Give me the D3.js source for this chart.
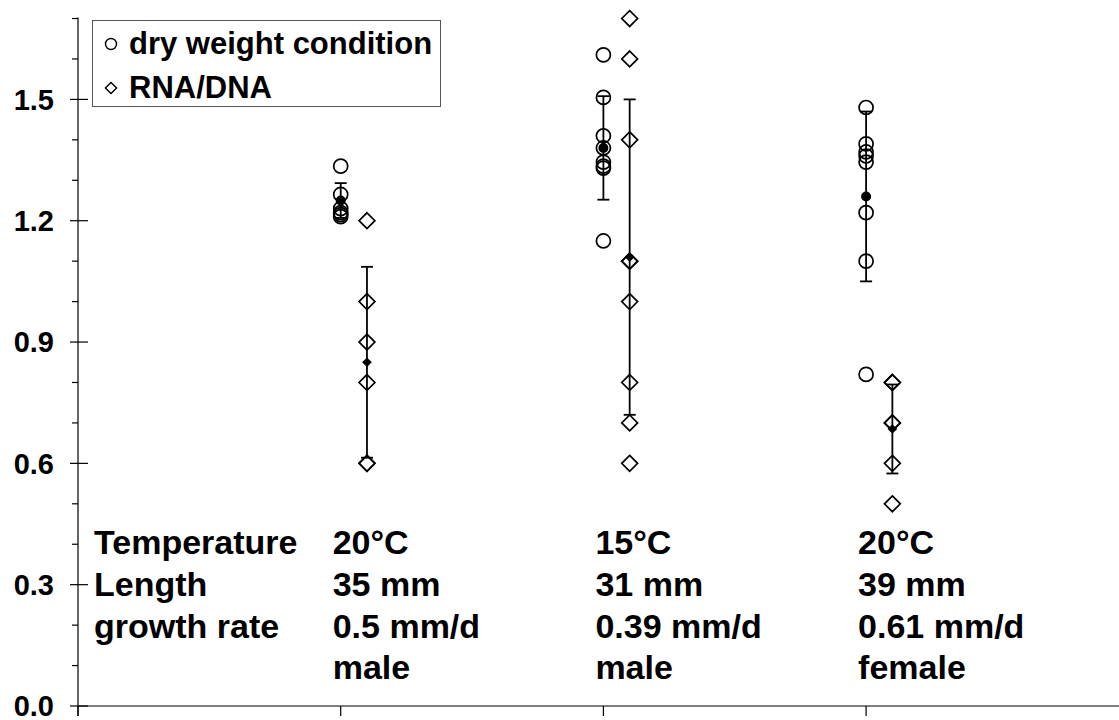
<!DOCTYPE html>
<html>
<head>
<meta charset="utf-8">
<script src="https://cdn.jsdelivr.net/npm/d3@7"></script>
<style>
  body { margin: 0; background: #fff; }
  text { font-family: "Liberation Sans", Arial, sans-serif; font-weight: bold; fill: #000; }
</style>
</head>
<body>
<script>
var width = 1119;
var height = 720;

// groups along x (1, 2, 3)
var groups = [1, 2, 3];

// dry weight condition, single fish
var dryWeight = [
    [1.335, 1.265, 1.23, 1.22, 1.215, 1.21],
    [1.61, 1.505, 1.41, 1.38, 1.345, 1.335, 1.33, 1.15],
    [1.48, 1.39, 1.37, 1.36, 1.345, 1.22, 1.10, 0.82]
];
var dryMean = [1.25, 1.38, 1.26];
var drySd = [0.043, 0.128, 0.21];

// RNA/DNA, single fish
var rnaDna = [
    [1.2, 1.0, 0.9, 0.8, 0.6, 0.6],
    [1.7, 1.6, 1.4, 1.1, 1.1, 1.0, 0.8, 0.7, 0.6],
    [0.8, 0.8, 0.7, 0.7, 0.6, 0.5]
];
var rnaMean = [0.85, 1.11, 0.685];
var rnaSd = [0.236, 0.39, 0.11];

var majorTicks = [0, 0.3, 0.6, 0.9, 1.2, 1.5];
var minorTicks = [0.1, 0.2, 0.4, 0.5, 0.7, 0.8, 1.0, 1.1, 1.3, 1.4, 1.6, 1.7];
var xTicks = [0, 1, 2, 3, 4];

var rowLabels = ["Temperature", "Length", "growth rate", ""];
var temperature = ["20°C", "15°C", "20°C"];
var lengthMm = ["35 mm", "31 mm", "39 mm"];
var growthRate = ["0.5 mm/d", "0.39 mm/d", "0.61 mm/d"];
var sex = ["male", "male", "female"];

var legendLabels = ["dry weight condition", "RNA/DNA"];

var svg = d3.select("body")
    .append("svg")
    .attr("width", width)
    .attr("height", height);

var x = d3.scaleLinear()
    .domain([0, 4])
    .range([78, 1128.8]);

var y = d3.scaleLinear()
    .domain([0, 1.5])
    .range([706, 99.4]);

var offset = 0.1; // RNA/DNA drawn a bit to the right

// axes
svg.append("line")
    .attr("x1", x(0)).attr("x2", x(0))
    .attr("y1", y(1.7) - 1).attr("y2", y(0) + 10)
    .attr("stroke", "#000").attr("stroke-width", 1.2);

svg.append("line")
    .attr("x1", x(0)).attr("x2", width)
    .attr("y1", y(0)).attr("y2", y(0))
    .attr("stroke", "#000").attr("stroke-width", 1.2);

svg.append("g")
    .selectAll("line")
    .data(majorTicks)
    .enter()
    .append("line")
    .attr("x1", x(0) - 8).attr("x2", x(0) + 10)
    .attr("y1", function (d) { return y(d); })
    .attr("y2", function (d) { return y(d); })
    .attr("stroke", "#000").attr("stroke-width", 1.2);

svg.append("g")
    .selectAll("line")
    .data(minorTicks)
    .enter()
    .append("line")
    .attr("x1", x(0) - 6).attr("x2", x(0))
    .attr("y1", function (d) { return y(d); })
    .attr("y2", function (d) { return y(d); })
    .attr("stroke", "#000").attr("stroke-width", 1.2);

svg.append("g")
    .selectAll("text")
    .data(majorTicks)
    .enter()
    .append("text")
    .attr("x", 54)
    .attr("y", function (d) { return y(d); })
    .attr("dy", "0.35em")
    .attr("text-anchor", "end")
    .style("font-size", "29px")
    .text(function (d) { return d.toFixed(1); });

svg.append("g")
    .selectAll("line")
    .data(xTicks)
    .enter()
    .append("line")
    .attr("x1", function (d) { return x(d); })
    .attr("x2", function (d) { return x(d); })
    .attr("y1", y(0)).attr("y2", y(0) + 10)
    .attr("stroke", "#000").attr("stroke-width", 1.2);

// error bars
function errorBars(means, sds, dx) {
    var g = svg.append("g");
    for (var i = 0; i < groups.length; i++) {
        var cx = x(groups[i] + dx);
        var top = y(means[i] + sds[i]);
        var bot = y(means[i] - sds[i]);
        g.append("line")
            .attr("x1", cx).attr("x2", cx)
            .attr("y1", top).attr("y2", bot)
            .attr("stroke", "#000").attr("stroke-width", 1.8);
        g.append("line")
            .attr("x1", cx - 6).attr("x2", cx + 6)
            .attr("y1", top).attr("y2", top)
            .attr("stroke", "#000").attr("stroke-width", 1.8);
        g.append("line")
            .attr("x1", cx - 6).attr("x2", cx + 6)
            .attr("y1", bot).attr("y2", bot)
            .attr("stroke", "#000").attr("stroke-width", 1.8);
    }
}
errorBars(dryMean, drySd, 0);
errorBars(rnaMean, rnaSd, offset);

// single points
var dryPoints = [];
var rnaPoints = [];
for (var i = 0; i < groups.length; i++) {
    dryWeight[i].forEach(function (v) { dryPoints.push({ g: groups[i], v: v }); });
    rnaDna[i].forEach(function (v) { rnaPoints.push({ g: groups[i], v: v }); });
}

var diamond = d3.symbol().type(d3.symbolDiamond2).size(160);
var smallDiamond = d3.symbol().type(d3.symbolDiamond2).size(60);

svg.append("g")
    .selectAll("circle")
    .data(dryPoints)
    .enter()
    .append("circle")
    .attr("cx", function (d) { return x(d.g); })
    .attr("cy", function (d) { return y(d.v); })
    .attr("r", 7)
    .attr("fill", "none")
    .attr("stroke", "#000")
    .attr("stroke-width", 1.7);

svg.append("g")
    .selectAll("path")
    .data(rnaPoints)
    .enter()
    .append("path")
    .attr("d", diamond)
    .attr("transform", function (d) { return "translate(" + x(d.g + offset) + "," + y(d.v) + ")"; })
    .attr("fill", "none")
    .attr("stroke", "#000")
    .attr("stroke-width", 1.7);

// means
svg.append("g")
    .selectAll("circle")
    .data(dryMean)
    .enter()
    .append("circle")
    .attr("cx", function (d, i) { return x(groups[i]); })
    .attr("cy", function (d) { return y(d); })
    .attr("r", 5)
    .attr("fill", "#000");

svg.append("g")
    .selectAll("path")
    .data(rnaMean)
    .enter()
    .append("path")
    .attr("d", smallDiamond)
    .attr("transform", function (d, i) { return "translate(" + x(groups[i] + offset) + "," + y(d) + ")"; })
    .attr("fill", "#000");

// legend
var legend = svg.append("g");
legend.append("rect")
    .attr("x", 92.5).attr("y", 20.5)
    .attr("width", 348).attr("height", 86)
    .attr("fill", "#fff")
    .attr("stroke", "#555")
    .attr("stroke-width", 1);
legend.append("circle")
    .attr("cx", 111).attr("cy", 44)
    .attr("r", 5.5)
    .attr("fill", "none").attr("stroke", "#000").attr("stroke-width", 1.4);
legend.append("path")
    .attr("d", d3.symbol().type(d3.symbolDiamond2).size(80))
    .attr("transform", "translate(111,88)")
    .attr("fill", "none").attr("stroke", "#000").attr("stroke-width", 1.4);
legend.selectAll("text")
    .data(legendLabels)
    .enter()
    .append("text")
    .attr("x", 129)
    .attr("y", function (d, i) { return 54 + i * 44; })
    .style("font-size", "31px")
    .text(function (d) { return d; });

// table of conditions
var rowY = [554, 596, 638, 679];
var rows = [temperature, lengthMm, growthRate, sex];

svg.append("g")
    .selectAll("text")
    .data(rowLabels)
    .enter()
    .append("text")
    .attr("x", 94)
    .attr("y", function (d, i) { return rowY[i]; })
    .style("font-size", "34px")
    .text(function (d) { return d; });

rows.forEach(function (row, r) {
    svg.append("g")
        .selectAll("text")
        .data(row)
        .enter()
        .append("text")
        .attr("x", function (d, i) { return x(groups[i]) - 8; })
        .attr("y", rowY[r])
        .style("font-size", "34px")
        .text(function (d) { return d; });
});
</script>
</body>
</html>
